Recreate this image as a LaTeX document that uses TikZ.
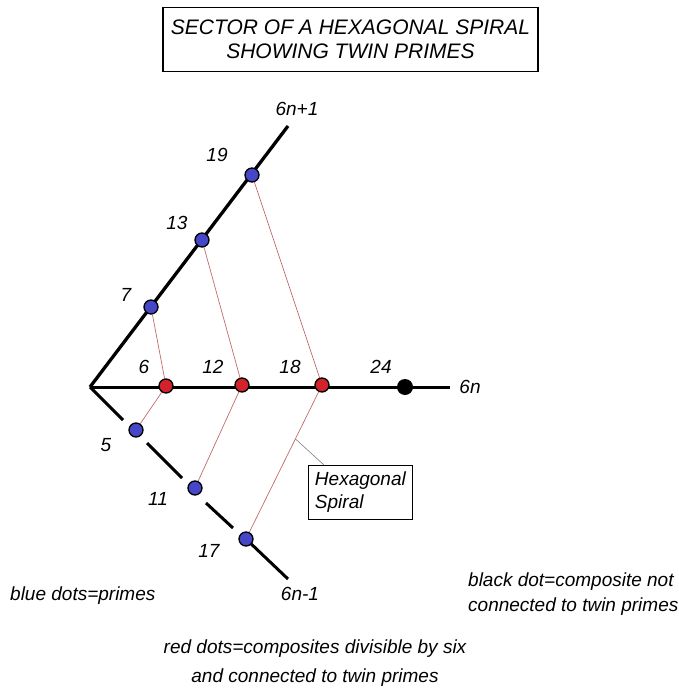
\documentclass[tikz,border=0pt]{standalone}
\usepackage{fontspec}
\setmainfont{Liberation Sans}
\usetikzlibrary{calc,backgrounds}
\definecolor{dotblue}{RGB}{70,70,200}
\definecolor{dotred}{RGB}{210,35,45}
\definecolor{linkred}{RGB}{195,105,105}
\begin{document}
\begin{tikzpicture}[x=1pt,y=-1pt,
  lbl/.style={font=\fontsize{19}{23}\selectfont\itshape, inner sep=0pt},
  bdot/.style={circle, draw=black, line width=1.3pt, fill=dotblue, minimum size=14pt, inner sep=0pt},
  rdot/.style={circle, draw=black, line width=1.3pt, fill=dotred, minimum size=14pt, inner sep=0pt},
  kdot/.style={circle, fill=black, minimum size=16pt, inner sep=0pt},
  axisline/.style={line width=3pt, black},
  link/.style={linkred, line width=0.7pt}]
\useasboundingbox (0,0) rectangle (679,688);

% title
\node[draw, line width=1.8pt, minimum width=375pt, minimum height=64pt, align=center,
      font=\fontsize{21}{24}\selectfont\itshape, inner sep=0pt] (title) at (350.5,39.5)
      {SECTOR OF A HEXAGONAL SPIRAL\\SHOWING TWIN PRIMES};

% key points
\coordinate (O) at (90,387);
\coordinate (top1) at (288,126);
\coordinate (e6n) at (450,387);
\coordinate (s1) at (123,420);
\coordinate (s2) at (147,443);
\coordinate (s3) at (182,478);
\coordinate (s4) at (206,503);
\coordinate (s5) at (233,528);
\coordinate (e6nm1) at (288,579);

% dots
\node[bdot] (n7)  at (151,307) {};
\node[bdot] (n13) at (202,240) {};
\node[bdot] (n19) at (252,175) {};
\node[rdot] (n6)  at (166,386) {};
\node[rdot] (n12) at (242,385) {};
\node[rdot] (n18) at (322,385) {};
\node[kdot] (n24) at (405,387) {};
\node[bdot] (n5)  at (136,430) {};
\node[bdot] (n11) at (195,488) {};
\node[bdot] (n17) at (246,539) {};

% labels
\node[lbl] (t19) at (217,155) {19};
\node[lbl] (t13) at (177,223) {13};
\node[lbl] (t7)  at (126,295) {7};
\node[lbl] (t6)  at (144,367) {6};
\node[lbl] (t12) at (213,367) {12};
\node[lbl] (t18) at (290,367) {18};
\node[lbl] (t24) at (381,367) {24};
\node[lbl] (t5)  at (106,445) {5};
\node[lbl] (t11) at (158,499) {11};
\node[lbl] (t17) at (209,551) {17};
\node[lbl] (l6np1) at (297,109) {6n+1};
\node[lbl] (l6n) at (470,387) {6n};
\node[lbl, anchor=base] (l6nm1) at (300,600) {6n-1};

% hexagonal spiral box
\node[draw, line width=0.8pt, minimum width=104pt, minimum height=54pt, align=left,
      font=\fontsize{19}{23}\selectfont\itshape, inner sep=0pt, anchor=north west]
      (hex) at (308,465) {Hexagonal\\Spiral};
\coordinate (sp) at ($(n18)!0.35!(n17)$);
\coordinate (hexlead) at ($(hex.north west)+(16,0)$);

% legends
\node[lbl, anchor=base west] (legb) at (10,600) {blue dots=primes};
\node[lbl, anchor=base west] (legk1) at (468,586) {black dot=composite not};
\node[lbl, anchor=base west] (legk2) at (468,611) {connected to twin primes};
\node[lbl, anchor=base] (legr1) at (315,653) {red dots=composites divisible by six};
\node[lbl, anchor=base] (legr2) at (315,682) {and connected to twin primes};

\begin{scope}[on background layer]
  \draw[axisline, line width=3.3pt] (O) -- (top1);
  \draw[axisline] (O) -- (e6n);
  \draw[axisline] (O) -- (s1);
  \draw[axisline] (s2) -- (s3);
  \draw[axisline] (s4) -- (s5);
  \draw[axisline] (n17.center) -- (e6nm1);
  \draw[link] (n7) -- (n6);
  \draw[link] (n6) -- (n5);
  \draw[link] (n13) -- (n12);
  \draw[link] (n12) -- (n11);
  \draw[link] (n19) -- (n18);
  \draw[link] (n18) -- (n17);
  \draw[gray, line width=0.6pt] (sp) -- (hexlead);
\end{scope}
\end{tikzpicture}
\end{document}
